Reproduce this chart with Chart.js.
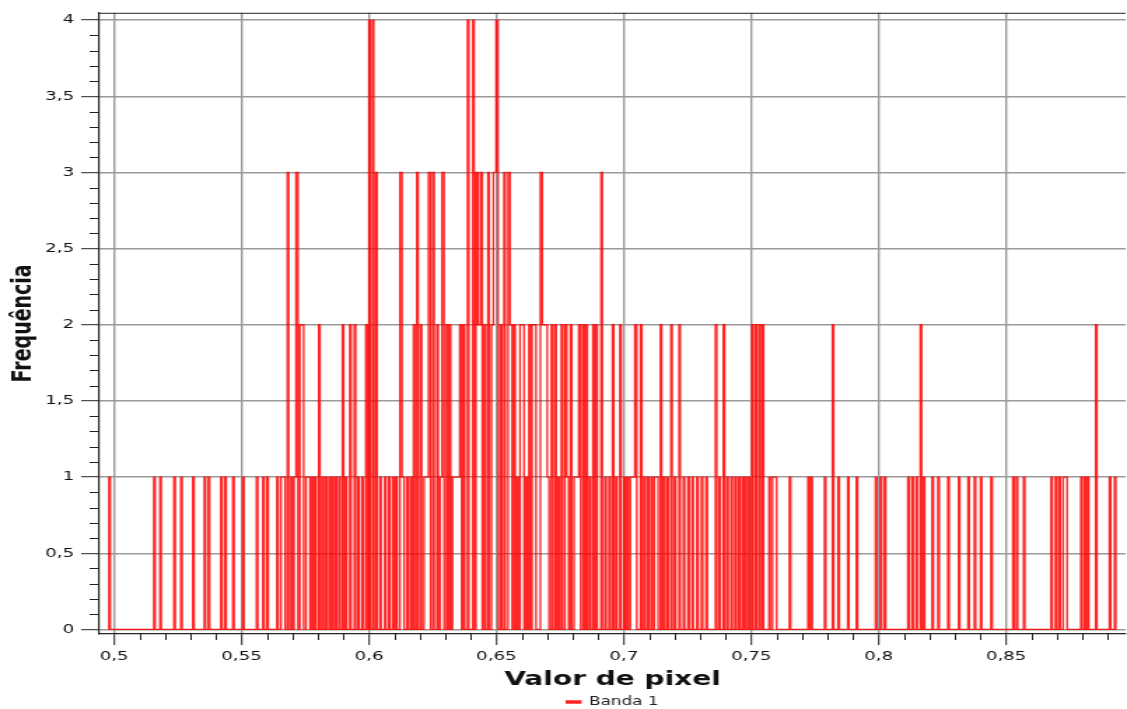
<!DOCTYPE html>
<html>
<head>
<meta charset="utf-8">
<script src="https://cdn.jsdelivr.net/npm/chart.js@4.4.1/dist/chart.umd.min.js"></script>
<style>
  html, body { margin: 0; padding: 0; background: #fff; overflow: hidden; }
  /* the original plot is a horizontally stretched screenshot: draw narrow, stretch 1.4x */
  #wrap { width: 805px; height: 709px; transform: scaleX(1.4); transform-origin: 0 0; }
  canvas { display: block; }
</style>
</head>
<body>
<div id="wrap"><canvas id="chart" width="805" height="709"></canvas></div>
<script>
const seriesName = "Banda 1";
const xTitle = "Valor de pixel";
const yTitle = "Frequência";

const xTicks = [0.5, 0.55, 0.6, 0.65, 0.7, 0.75, 0.8, 0.85];
const yTicks = [0, 0.5, 1, 1.5, 2, 2.5, 3, 3.5, 4];

// pixel values that have a non-zero count, read off the plot, and their counts
const spikeX = [
  0.4982, 0.5158, 0.5182, 0.5237, 0.5264, 0.5311, 0.5356, 0.5372, 0.5421, 0.5437,
  0.5468, 0.5507, 0.5561, 0.5586, 0.5602, 0.5641, 0.5657, 0.5668, 0.5682, 0.5696,
  0.5708, 0.5719, 0.5731, 0.5741, 0.5755, 0.5766, 0.5778, 0.5790, 0.5805, 0.5818,
  0.5831, 0.5845, 0.5857, 0.5870, 0.5884, 0.5898, 0.5910, 0.5927, 0.5945, 0.5959,
  0.5975, 0.5990, 0.6002, 0.6016, 0.6029, 0.6045, 0.6064, 0.6080, 0.6096, 0.6108,
  0.6124, 0.6135, 0.6151, 0.6165, 0.6177, 0.6190, 0.6204, 0.6218, 0.6228, 0.6239,
  0.6253, 0.6269, 0.6281, 0.6292, 0.6306, 0.6318, 0.6330, 0.6341, 0.6351, 0.6361,
  0.6373, 0.6389, 0.6410, 0.6422, 0.6432, 0.6442, 0.6455, 0.6469, 0.6483, 0.6493,
  0.6504, 0.6518, 0.6532, 0.6548, 0.6559, 0.6571, 0.6583, 0.6595, 0.6606, 0.6618,
  0.6630, 0.6642, 0.6653, 0.6675, 0.6685, 0.6695, 0.6704, 0.6718, 0.6732, 0.6744,
  0.6757, 0.6771, 0.6781, 0.6793, 0.6807, 0.6818, 0.6828, 0.6842, 0.6854, 0.6867,
  0.6881, 0.6893, 0.6913, 0.6928, 0.6944, 0.6958, 0.6971, 0.6987, 0.7003, 0.7015,
  0.7028, 0.7038, 0.7048, 0.7068, 0.7081, 0.7095, 0.7109, 0.7122, 0.7132, 0.7146,
  0.7158, 0.7172, 0.7187, 0.7201, 0.7219, 0.7236, 0.7254, 0.7270, 0.7289, 0.7307,
  0.7325, 0.7362, 0.7376, 0.7393, 0.7407, 0.7423, 0.7438, 0.7452, 0.7466, 0.7478,
  0.7491, 0.7505, 0.7519, 0.7533, 0.7546, 0.7572, 0.7586, 0.7597, 0.7652, 0.7725,
  0.7737, 0.7790, 0.7821, 0.7843, 0.7881, 0.7915, 0.7990, 0.8009, 0.8025, 0.8117,
  0.8133, 0.8149, 0.8166, 0.8178, 0.8212, 0.8235, 0.8274, 0.8316, 0.8353, 0.8378,
  0.8402, 0.8443, 0.8529, 0.8543, 0.8571, 0.8679, 0.8696, 0.8710, 0.8726, 0.8737,
  0.8796, 0.8810, 0.8822, 0.8854, 0.8908, 0.8928
];
const spikeCount = [
  1, 1, 1, 1, 1, 1, 1, 1, 1, 1,
  1, 1, 1, 1, 1, 1, 1, 1, 3, 1,
  1, 3, 2, 2, 1, 1, 1, 1, 2, 1,
  1, 1, 1, 1, 1, 2, 1, 2, 2, 1,
  1, 2, 4, 4, 3, 1, 1, 1, 1, 1,
  3, 1, 1, 1, 2, 3, 2, 1, 1, 3,
  3, 2, 1, 3, 2, 2, 1, 1, 1, 2,
  2, 4, 4, 3, 2, 3, 2, 3, 2, 3,
  4, 2, 3, 3, 2, 2, 1, 2, 2, 1,
  2, 2, 2, 3, 2, 2, 1, 2, 2, 1,
  2, 2, 1, 2, 1, 1, 2, 2, 2, 1,
  2, 2, 3, 1, 1, 2, 1, 2, 1, 1,
  1, 1, 2, 2, 1, 1, 1, 1, 1, 2,
  1, 1, 2, 1, 2, 1, 1, 1, 1, 1,
  1, 2, 1, 2, 1, 1, 1, 1, 1, 1,
  1, 2, 2, 2, 2, 1, 1, 1, 1, 1,
  1, 1, 2, 1, 1, 1, 1, 1, 1, 1,
  1, 1, 2, 1, 1, 1, 1, 1, 1, 1,
  1, 1, 1, 1, 1, 1, 1, 1, 1, 1,
  1, 1, 1, 2, 1, 1
];

const X_MIN = 0.4942, X_MAX = 0.8969;
const Y_MIN = -0.03, Y_MAX = 4.048;
const binHalf = 0.0005;   // spacing to the empty neighbour bin
const joinGap = 0.00115;  // values closer than this are neighbouring bins

// histogram line: back to 0 between separated values
const points = [];
for (let i = 0; i < spikeX.length; i++) {
  const x = spikeX[i];
  const gapPrev = i > 0 ? x - spikeX[i - 1] : Infinity;
  const gapNext = i < spikeX.length - 1 ? spikeX[i + 1] - x : Infinity;
  if (gapPrev > joinGap) points.push({ x: x - Math.min(binHalf, gapPrev * 0.4), y: 0 });
  points.push({ x: x, y: spikeCount[i] });
  if (gapNext > joinGap) points.push({ x: x + Math.min(binHalf, gapNext * 0.4), y: 0 });
}

const fmt = v => String(+v.toFixed(2)).replace('.', ',');

const frameAndMinor = {
  id: 'frameAndMinor',
  afterDraw(chart) {
    const { ctx, chartArea: a, scales: { x, y } } = chart;
    ctx.save();
    ctx.strokeStyle = '#222';
    ctx.lineWidth = 1;
    ctx.beginPath();
    ctx.moveTo(a.left, a.top + 0.5);
    ctx.lineTo(a.right, a.top + 0.5);
    for (let k = 49; k <= 90; k++) {
      if (k % 5 === 0) continue;
      const v = k / 100;
      if (v < X_MIN || v > X_MAX) continue;
      const px = Math.round(x.getPixelForValue(v)) + 0.5;
      ctx.moveTo(px, a.bottom);
      ctx.lineTo(px, a.bottom + 6);
    }
    for (let k = 0; k <= 40; k++) {
      if (k % 5 === 0) continue;
      const py = Math.round(y.getPixelForValue(k / 10)) + 0.5;
      ctx.moveTo(a.left, py);
      ctx.lineTo(a.left - 7, py);
    }
    ctx.stroke();
    ctx.restore();
  }
};

Chart.defaults.font.family = "'DejaVu Sans', Verdana, sans-serif";

new Chart(document.getElementById('chart'), {
  type: 'line',
  data: {
    datasets: [{
      label: seriesName,
      data: points,
      borderColor: 'rgba(255, 0, 0, 0.85)',
      backgroundColor: 'rgba(255, 70, 70, 0.9)',
      borderWidth: 1.35,
      pointRadius: 0,
      stepped: 'middle',
      fill: false
    }]
  },
  options: {
    responsive: false,
    animation: false,
    devicePixelRatio: 1,
    parsing: false,
    layout: { padding: { top: 11, left: 0, right: 1, bottom: -9 } },
    plugins: {
      legend: {
        position: 'bottom',
        fullSize: false,
        labels: { boxWidth: 10, boxHeight: 2, padding: 4, color: '#222', font: { size: 12 } }
      },
      tooltip: { enabled: false }
    },
    scales: {
      x: {
        type: 'linear',
        min: X_MIN,
        max: X_MAX,
        afterBuildTicks: s => { s.ticks = xTicks.map(v => ({ value: v })); },
        afterFit: s => { s.height = 58; },
        ticks: { callback: fmt, color: '#111', font: { size: 13 }, padding: 4, maxRotation: 0, autoSkip: false },
        grid: { color: '#9a9a9a', lineWidth: 1.4, tickLength: 11, tickColor: '#222', tickWidth: 1 },
        border: { color: '#222', width: 1.2 },
        title: { display: true, text: xTitle, color: '#111', font: { size: 20, weight: 'bold' }, padding: { top: 0, bottom: 0 } }
      },
      y: {
        min: Y_MIN,
        max: Y_MAX,
        afterBuildTicks: s => { s.ticks = yTicks.map(v => ({ value: v })); },
        afterFit: s => { s.width = 71; },
        ticks: { callback: fmt, color: '#111', font: { size: 13 }, padding: 5 },
        grid: { color: '#9a9a9a', lineWidth: 1.4, tickLength: 13, tickColor: '#222', tickWidth: 1 },
        border: { color: '#222', width: 1.2 },
        title: { display: true, text: yTitle, color: '#111', font: { size: 19, weight: 'bold' }, padding: { top: 6, bottom: 0 } }
      }
    }
  },
  plugins: [frameAndMinor]
});
</script>
</body>
</html>
